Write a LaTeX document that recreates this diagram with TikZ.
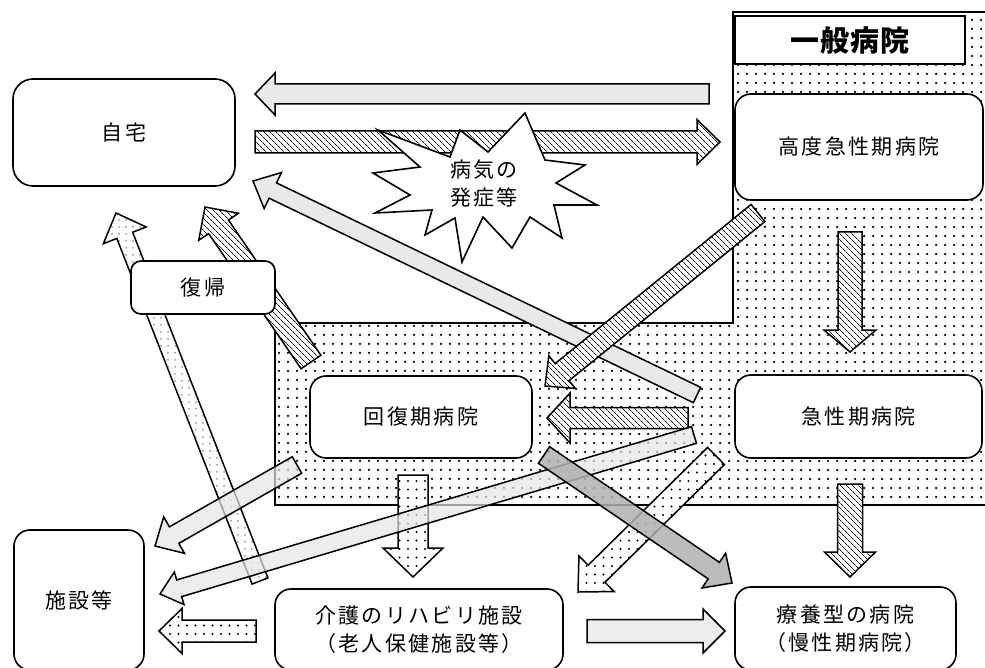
\documentclass[tikz,border=0pt]{standalone}
\usepackage{fontspec}
\newfontfamily\jp[LetterSpace=11]{Noto Sans CJK JP}
\newfontfamily\jph[LetterSpace=3]{Noto Sans CJK JP}
\usetikzlibrary{calc,patterns.meta}

% block arrow: #1 style, #2 from, #3 to, #4 half shaft, #5 half head, #6 head length
\newcommand\blockarr[6]{%
  \coordinate (bah) at ($(#3)!#6!(#2)$);
  \path[#1] ($(#2)!#4!90:(#3)$) -- ($(bah)!#4!-90:(#2)$) -- ($(bah)!#5!-90:(#2)$)
    -- (#3) -- ($(bah)!#5!90:(#2)$) -- ($(bah)!#4!90:(#2)$) -- ($(#2)!#4!-90:(#3)$) -- cycle;
}

\begin{document}
\begin{tikzpicture}[x=1pt,y=-1pt,
  box/.style={draw, line width=1.6pt, rounded corners=16pt, fill=white, align=center,
    font=\jp\fontsize{21}{28}\selectfont, inner sep=0pt},
  arr/.style={draw, line width=1.5pt, line join=miter},
  hatch/.style={arr, preaction={fill=white}, pattern={Lines[angle=-45,distance=4pt,line width=0.8pt]}},
  dotted arr/.style={arr, preaction={fill=white}, pattern={Dots[distance=8.5pt,radius=1.2pt]}},
  light dots/.style={arr, preaction={fill=white}, pattern={Dots[distance=7pt,radius=1pt]}, pattern color=gray!80},
  grid fill/.style={arr, fill=gray!17},
  gray fill/.style={arr, fill=gray!20, fill opacity=0.7},
  dark fill/.style={arr, fill=gray!62, fill opacity=0.85},
  region/.style={pattern={Dots[distance=9pt,radius=1.25pt]}},
]
\useasboundingbox (0,0) rectangle (985,668);

% general hospital region
\path[region] (733,12) -- (992,12) -- (992,505) -- (275,505) -- (275,323) -- (733,323) -- cycle;
\draw[line width=1.6pt] (992,12) -- (733,12) -- (733,323) -- (275,323) -- (275,505) -- (992,505);
\node[draw, line width=1.8pt, fill=white, minimum width=230pt, minimum height=48pt, inner sep=0pt,
  font=\jph\bfseries\fontsize{29}{32}\selectfont] (ippan) at (850,40) {一般病院};

% endpoints of arrows
\coordinate (a9s) at (260,581);  \coordinate (a9e) at (116,213);
\coordinate (a10s) at (311,362); \coordinate (a10e) at (205,207);
\coordinate (a1s) at (709,94);   \coordinate (a1e) at (255,94);
\coordinate (a2s) at (255,142);  \coordinate (a2e) at (720,142);
\coordinate (a3s) at (697,395);  \coordinate (a3e) at (253,181);
\coordinate (a4s) at (758,213);  \coordinate (a4e) at (545,386);
\coordinate (a5s) at (850,232);  \coordinate (a5e) at (850,352);
\coordinate (a6s) at (688,418);  \coordinate (a6e) at (547,418);
\coordinate (a11s) at (413,475); \coordinate (a11e) at (413,577);
\coordinate (a12s) at (256,631); \coordinate (a12e) at (159,631);
\coordinate (a13s) at (716,456); \coordinate (a13e) at (578,592);
\coordinate (a15s) at (850,484); \coordinate (a15e) at (850,577);
\coordinate (a7s) at (694,435);  \coordinate (a7e) at (160,594);
\coordinate (a8s) at (297,465);  \coordinate (a8e) at (155,546);
\coordinate (a14s) at (544,455); \coordinate (a14e) at (732,583);
\coordinate (a16s) at (587,631); \coordinate (a16e) at (725,631);

\blockarr{light dots}{a9s}{a9e}{8.5pt}{23pt}{24pt}
\blockarr{hatch}{a10s}{a10e}{12pt}{24pt}{24pt}
\blockarr{grid fill}{a1s}{a1e}{10pt}{21pt}{20pt}
\blockarr{hatch}{a2s}{a2e}{11pt}{22.5pt}{23pt}

% burst
\draw[line width=1.6pt, fill=white, line join=miter]
  (378,130) -- (450,157) -- (460,130) -- (488,152) -- (525,113) -- (545,160)
  -- (585,165) -- (556,183) -- (597,205) -- (554,205) -- (562,238) -- (530,217)
  -- (512,248) -- (483,217) -- (462,262) -- (455,218) -- (425,235) -- (432,210)
  -- (375,213) -- (410,195) -- (373,173) -- (420,167) -- cycle;
\node[font=\jp\fontsize{21}{28}\selectfont, align=center, inner sep=0pt] (burst) at (484,184) {病気の\\発症等};

\blockarr{grid fill}{a3s}{a3e}{8.5pt}{20pt}{22pt}
\blockarr{hatch}{a4s}{a4e}{11pt}{21pt}{22pt}
\blockarr{hatch}{a5s}{a5e}{12pt}{26pt}{22pt}
\blockarr{hatch}{a6s}{a6e}{10.5pt}{25pt}{23pt}
\blockarr{dotted arr}{a11s}{a11e}{15pt}{30pt}{29pt}
\blockarr{dotted arr}{a12s}{a12e}{11pt}{22.5pt}{23pt}
\blockarr{dotted arr}{a13s}{a13e}{12pt}{25pt}{26pt}
\blockarr{hatch}{a15s}{a15e}{12.5pt}{25.5pt}{25pt}
\blockarr{gray fill}{a7s}{a7e}{8.7pt}{17pt}{20pt}
\blockarr{gray fill}{a8s}{a8e}{9.5pt}{21pt}{22pt}
\blockarr{dark fill}{a14s}{a14e}{10pt}{21pt}{22pt}
\blockarr{gray fill}{a16s}{a16e}{11.5pt}{22pt}{22pt}

% boxes
\node[box, minimum width=222pt, minimum height=107pt, rounded corners=20pt] (jitaku) at (124,132.5) {自宅};
\node[box, minimum width=248pt, minimum height=106pt] (koudo) at (859,147) {高度急性期病院};
\node[box, minimum width=222pt, minimum height=82pt] (kaifuku) at (421,417) {回復期病院};
\node[box, minimum width=247pt, minimum height=83pt] (kyusei) at (858.5,416.5) {急性期病院};
\node[box, minimum width=130pt, minimum height=140pt] (shisetsu) at (79,600) {施設等};
\node[box, minimum width=288pt, minimum height=81pt] (kaigo) at (419,629.5) {介護のリハビリ施設\\（老人保健施設等）};
\node[box, minimum width=221pt, minimum height=83pt] (ryouyou) at (845.5,628.5) {療養型の病院\\（慢性期病院）};
\node[box, minimum width=144pt, minimum height=53pt, rounded corners=10pt] (fukki) at (203,287.5) {復帰};
\end{tikzpicture}
\end{document}
